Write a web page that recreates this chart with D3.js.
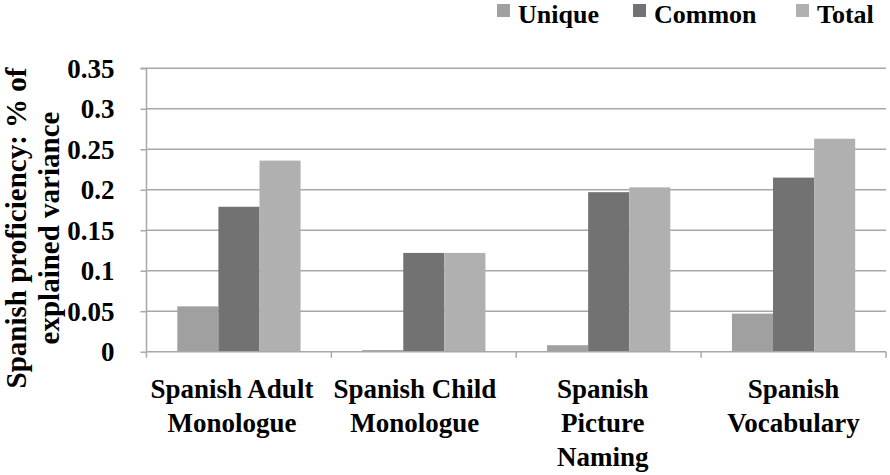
<!DOCTYPE html>
<html>
<head>
<meta charset="utf-8">
<script src="https://cdn.jsdelivr.net/npm/d3@7"></script>
<style>
  html, body { margin: 0; padding: 0; background: #fff; }
  svg text { font-family: "Liberation Serif", "Times New Roman", Times, serif; font-weight: bold; fill: #000; }
</style>
</head>
<body>
<svg id="chart" width="890" height="475"></svg>
<script>
const categories = [
  ["Spanish Adult", "Monologue"],
  ["Spanish Child", "Monologue"],
  ["Spanish", "Picture", "Naming"],
  ["Spanish", "Vocabulary"]
];
const seriesNames = ["Unique", "Common", "Total"];
const uniqueValues = [0.056, 0.002, 0.008, 0.047];
const commonValues = [0.179, 0.122, 0.197, 0.215];
const totalValues  = [0.236, 0.122, 0.203, 0.263];
const yTicks = [0, 0.05, 0.1, 0.15, 0.2, 0.25, 0.3, 0.35];
const yTickLabels = ["0", "0.05", "0.1", "0.15", "0.2", "0.25", "0.3", "0.35"];
const colors = ["#a0a0a0", "#727272", "#b0b0b0"];

const series = [uniqueValues, commonValues, totalValues];
const svg = d3.select("#chart");
const pL = 146.5, pR = 886, pT = 68.3, pB = 351.7;
const labelNudge = [-7, -9, -6, 0];

const x = d3.scaleBand().domain(d3.range(categories.length)).range([pL, pR]).paddingInner(0).paddingOuter(0);
const y = d3.scaleLinear().domain([0, 0.35]).range([pB, pT]);
const inner = d3.scaleBand().domain(d3.range(series.length)).range([0, x.bandwidth()]).paddingOuter(0.75).paddingInner(0);

// gridlines
svg.append("g").selectAll("line").data(yTicks.slice(1)).join("line")
  .attr("x1", pL).attr("x2", pR)
  .attr("y1", d => y(d)).attr("y2", d => y(d))
  .attr("stroke", "#a8a8a8").attr("stroke-width", 1.5);

// bars
const gcat = svg.append("g").selectAll("g").data(categories).join("g")
  .attr("transform", (d, i) => `translate(${x(i)},0)`);
gcat.selectAll("rect").data((d, i) => series.map((s, j) => ({ j, v: s[i] }))).join("rect")
  .attr("x", d => inner(d.j))
  .attr("width", inner.bandwidth())
  .attr("y", d => y(d.v))
  .attr("height", d => pB - y(d.v))
  .attr("fill", d => colors[d.j]);

// y axis
const yAxis = d3.axisLeft(y).tickValues(yTicks).tickFormat((d, i) => yTickLabels[i]).tickSize(6).tickPadding(26);
const ya = svg.append("g").attr("transform", `translate(${pL},0)`).call(yAxis);
ya.attr("font-family", null).attr("font-size", null);
ya.select(".domain").attr("stroke", "#a8a8a8").attr("stroke-width", 1.5).attr("d", `M-6,${pT}H0V${pB}`);
ya.selectAll(".tick line").attr("stroke", "#a8a8a8").attr("stroke-width", 1.5);
ya.selectAll(".tick text").style("font-size", "27px").attr("fill", "#000").attr("dy", "0.34em");

// x axis
const xa = svg.append("g");
xa.append("line").attr("x1", pL).attr("x2", pR).attr("y1", pB).attr("y2", pB)
  .attr("stroke", "#a8a8a8").attr("stroke-width", 1.5);
xa.selectAll("line.t").data(d3.range(categories.length + 1)).join("line").attr("class", "t")
  .attr("x1", i => i < categories.length ? x(i) : pR).attr("x2", i => i < categories.length ? x(i) : pR)
  .attr("y1", pB).attr("y2", pB + 6)
  .attr("stroke", "#a8a8a8").attr("stroke-width", 1.5);
const lab = xa.selectAll("text").data(categories).join("text")
  .attr("text-anchor", "middle").style("font-size", "27px")
  .attr("transform", (d, i) => `translate(${x(i) + x.bandwidth() / 2 + labelNudge[i]},0)`);
lab.selectAll("tspan").data(d => d).join("tspan")
  .attr("x", 0).attr("y", (d, k) => 398 + k * 34).text(d => d);

// y title
const yt = svg.append("text").attr("text-anchor", "middle").style("font-size", "29px")
  .attr("transform", "translate(0,228) rotate(-90)");
yt.selectAll("tspan").data(["Spanish proficiency: % of", "explained variance"]).join("tspan")
  .attr("x", 0).attr("y", (d, k) => 26 + k * 33).text(d => d);

// legend
const legX = [497, 633, 796];
const leg = svg.append("g").selectAll("g").data(seriesNames).join("g")
  .attr("transform", (d, i) => `translate(${legX[i]},0)`);
leg.append("rect").attr("x", 0).attr("y", 4).attr("width", 13).attr("height", 13).attr("fill", (d, i) => colors[i]);
leg.append("text").attr("x", 21).attr("y", 23).style("font-size", "26px").text(d => d);
</script>
</body>
</html>
